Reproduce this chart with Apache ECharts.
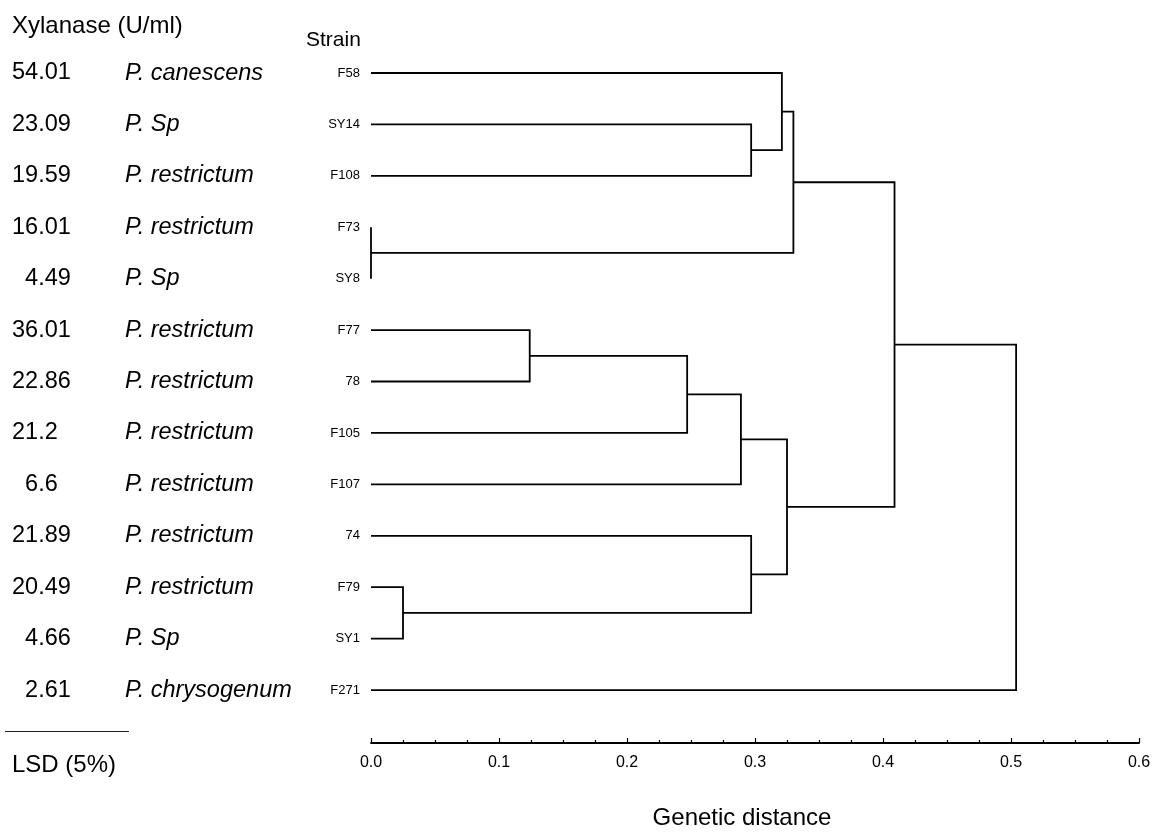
<!DOCTYPE html>
<html>
<head>
<meta charset="utf-8">
<title>Dendrogram</title>
<script src="https://cdn.jsdelivr.net/npm/echarts@6/dist/echarts.min.js"></script>
<style>
  html, body { margin: 0; padding: 0; background: #fff; }
  #main { width: 1163px; height: 832px; }
</style>
</head>
<body>
<div id="main"></div>
<script>
// leaf order top to bottom
var strains = ['F58', 'SY14', 'F108', 'F73', 'SY8', 'F77', '78', 'F105', 'F107', '74', 'F79', 'SY1', 'F271'];
var xylanase = ['54.01', '23.09', '19.59', '16.01', '  4.49', '36.01', '22.86', '21.2', '  6.6', '21.89', '20.49', '  4.66', '  2.61'];
var species = ['P. canescens', 'P. Sp', 'P. restrictum', 'P. restrictum', 'P. Sp', 'P. restrictum', 'P. restrictum',
  'P. restrictum', 'P. restrictum', 'P. restrictum', 'P. restrictum', 'P. Sp', 'P. chrysogenum'];
// merges: [child a, child b, genetic distance]; leaves are 0..12, new clusters get 13, 14, ...
var merges = [
  [1, 2, 0.297],
  [3, 4, 0.0],
  [0, 13, 0.321],
  [15, 14, 0.330],
  [5, 6, 0.124],
  [17, 7, 0.247],
  [18, 8, 0.289],
  [10, 11, 0.025],
  [9, 20, 0.297],
  [19, 21, 0.325],
  [16, 22, 0.409],
  [23, 12, 0.504]
];
var xTicks = [0, 0.1, 0.2, 0.3, 0.4, 0.5, 0.6];

var FONT = '"Liberation Sans", Arial, sans-serif';

// build the U shaped links
var nodeX = [], nodeY = [];
strains.forEach(function (s, i) { nodeX[i] = 0; nodeY[i] = i; });
var links = [];
merges.forEach(function (m, k) {
  var a = m[0], b = m[1], h = m[2];
  links.push({
    coords: [[nodeX[a], nodeY[a]], [h, nodeY[a]], [h, nodeY[b]], [nodeX[b], nodeY[b]]]
  });
  var id = strains.length + k;
  nodeX[id] = h;
  nodeY[id] = (nodeY[a] + nodeY[b]) / 2;
});

function labelAxis(list, opts) {
  return Object.assign({
    type: 'value',
    position: 'left',
    inverse: true,
    min: -1,
    max: 13.03,
    interval: 1,
    axisLine: { show: false },
    axisTick: { show: false },
    splitLine: { show: false }
  }, opts, {
    axisLabel: Object.assign({
      color: '#000',
      fontFamily: FONT,
      formatter: function (v) { return list[v] !== undefined ? list[v] : ''; }
    }, opts.axisLabel)
  });
}

var chart = echarts.init(document.getElementById('main'));
chart.setOption({
  animation: false,
  backgroundColor: '#fff',
  grid: { left: 371, right: 24, top: 21.58, bottom: 89, outerBoundsMode: 'none' },
  xAxis: {
    type: 'value',
    position: 'bottom',
    min: xTicks[0],
    max: xTicks[xTicks.length - 1],
    interval: 0.1,
    axisLine: { onZero: false, lineStyle: { color: '#000', width: 1.8 } },
    axisTick: { inside: true, length: 5, lineStyle: { color: '#000', width: 1.2 } },
    minorTick: { show: true, splitNumber: 4, length: 3, lineStyle: { color: '#000', width: 1.2 } },
    splitLine: { show: false },
    minorSplitLine: { show: false },
    axisLabel: {
      color: '#000', fontSize: 16, fontFamily: FONT, margin: 12,
      formatter: function (v) { return v.toFixed(1); }
    }
  },
  yAxis: [
    labelAxis(strains, { axisLabel: { fontSize: 13, margin: 11 } }),
    labelAxis(species, { axisLabel: { fontSize: 23.5, fontStyle: 'italic', align: 'left', margin: 246 } }),
    labelAxis(xylanase, { axisLabel: { fontSize: 23.5, align: 'left', margin: 359 } })
  ],
  series: [{
    type: 'lines',
    coordinateSystem: 'cartesian2d',
    xAxisIndex: 0,
    yAxisIndex: 0,
    polyline: true,
    clip: false,
    silent: true,
    lineStyle: { color: '#000', width: 1.8, opacity: 1 },
    data: links
  }],
  graphic: [
    { type: 'text', left: 12, top: 14, style: { text: 'Xylanase (U/ml)', font: '24px ' + FONT, fill: '#000' } },
    { type: 'text', left: 306, top: 30, style: { text: 'Strain', font: '21px ' + FONT, fill: '#000' } },
    { type: 'line', shape: { x1: 5, y1: 731.5, x2: 129, y2: 731.5 }, style: { stroke: '#222', lineWidth: 1 } },
    { type: 'text', left: 12, top: 753, style: { text: 'LSD (5%)', font: '24px ' + FONT, fill: '#000' } },
    { type: 'text', x: 742, y: 818, style: { text: 'Genetic distance', font: '24px ' + FONT, fill: '#000', align: 'center', verticalAlign: 'middle' } }
  ]
});
</script>
</body>
</html>
